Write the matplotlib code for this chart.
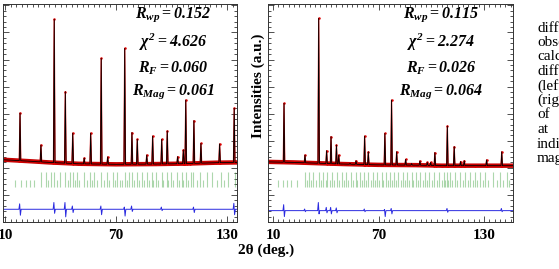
import numpy as np
import matplotlib
matplotlib.use('Agg')
import matplotlib.pyplot as plt
from matplotlib.ticker import FixedLocator, MultipleLocator

# ---- data (2theta in deg., intensity in arbitrary units) ----
# left pattern
left_bg_pos = [8.9, 22, 34, 50, 70, 92, 110, 124, 135.4]
left_bg_int = [2.30, 2.25, 2.20, 2.15, 2.13, 2.14, 2.16, 2.19, 2.20]
left_peak_pos = [18.1, 29.4, 36.6, 42.6, 46.6, 52.8, 56.3, 62.0, 65.5, 74.7, 78.6, 81.5,
                 86.6, 89.8, 94.7, 97.7, 103.3, 106.4, 107.7, 112.1, 115.9, 126.0, 133.9]
left_peak_int = [4.02, 2.84, 7.48, 4.81, 3.28, 2.36, 3.28, 6.04, 2.40, 6.41, 3.30, 3.05,
                 2.47, 3.17, 3.05, 3.36, 2.41, 2.66, 4.50, 3.74, 2.90, 2.88, 4.20]
left_nuc_ticks = [29.4, 32.0, 34.7, 36.6, 39.7, 42.6, 45.1, 46.6, 49.1, 52.9, 56.0, 58.3,
                  61.9, 64.9, 68.2, 70.7, 74.7, 77.2, 78.6, 81.5, 83.9, 86.6, 89.3, 91.6,
                  94.7, 97.4, 99.5, 102.8, 105.5, 107.8, 110.3, 111.8, 115.4, 119.0, 122.0,
                  126.6, 130.7, 134.5]
left_mag_ticks = [15.4, 18.5, 21.3, 23.5, 25.7, 33.4, 37.9, 43.9, 47.8, 50.2, 54.5, 56.8,
                  59.5, 63.5, 66.4, 69.4, 72.1, 73.0, 76.1, 79.7, 82.6, 85.3, 87.8, 90.2,
                  92.9, 95.6, 98.3, 101.0, 104.2, 106.4, 109.1, 113.6, 117.2, 124.4, 128.4]
left_diff_pos = [18.1, 36.6, 42.6, 46.6, 62.0, 74.7, 78.6, 94.7, 112.1, 133.9]
left_diff_up = [0.20, 0.25, 0.25, 0.12, 0.12, 0.08, 0.12, 0.08, 0.08, 0.22]
left_diff_down = [0.22, 0.15, 0.28, 0.12, 0.20, 0.25, 0.08, 0.05, 0.12, 0.20]
left_stats = [r'$R_{wp} = \mathbfit{0.152}$', r'$\chi^{\mathbfit{2}} = \mathbfit{4.626}$',
              r'$R_{F} = \mathbfit{0.060}$', r'$R_{Mag} = \mathbfit{0.061}$']

# right pattern
right_bg_pos = [7.2, 22, 50, 70, 91, 106, 125, 146.4]
right_bg_int = [2.22, 2.20, 2.14, 2.11, 2.10, 2.08, 2.08, 2.08]
right_peak_pos = [16.3, 28.2, 36.0, 40.5, 43.0, 46.1, 47.4, 53.8, 57.2, 62.1, 64.2, 73.6,
                  77.4, 80.3, 85.4, 88.8, 93.5, 97.7, 99.6, 102.0, 109.1, 113.0, 116.6,
                  118.7, 131.4, 140.0]
right_peak_int = [4.38, 2.47, 7.52, 2.63, 3.15, 2.84, 2.47, 2.17, 2.26, 3.17, 2.59, 3.27,
                  4.50, 2.59, 2.31, 2.16, 2.25, 2.20, 2.20, 2.56, 3.54, 2.78, 2.23,
                  2.26, 2.29, 2.59]
right_nuc_ticks = [28.2, 30.5, 32.9, 36.0, 38.6, 40.9, 43.3, 46.2, 49.0, 51.5, 54.3, 57.0,
                   59.4, 61.7, 64.2, 66.6, 68.9, 71.7, 74.0, 76.5, 78.8, 81.2, 83.7, 86.3,
                   88.8, 91.1, 93.5, 96.4, 98.8, 101.5, 104.5, 107.2, 108.7, 110.6, 113.4,
                   116.3, 119.1, 121.9, 124.8, 127.6, 130.5, 135.2, 139.0, 142.8]
right_mag_ticks = [12.7, 15.5, 17.8, 20.0, 23.5, 29.1, 31.6, 34.4, 37.3, 40.1, 42.4, 44.9,
                   47.3, 50.3, 52.8, 55.6, 57.9, 60.6, 62.8, 65.5, 68.0, 70.4, 72.7, 75.2,
                   77.4, 79.9, 82.5, 85.0, 87.5, 89.7, 92.2, 95.0, 97.7, 100.2, 103.0, 105.8,
                   107.9, 109.6, 111.9, 114.7, 117.8, 120.6, 123.5, 126.1, 129.1, 132.4,
                   137.1, 140.9, 144.3]
right_diff_pos = [16.3, 28.2, 36.0, 40.5, 43.0, 46.2, 62.1, 73.6, 77.4, 109.1, 140.0]
right_diff_up = [0.22, 0.06, 0.30, 0.12, 0.12, 0.10, 0.06, 0.04, 0.08, 0.08, 0.08]
right_diff_down = [0.22, 0.04, 0.12, 0.08, 0.12, 0.08, 0.04, 0.22, 0.12, 0.06, 0.04]
right_stats = [r'$R_{wp} = \mathbfit{0.115}$', r'$\chi^{\mathbfit{2}} = \mathbfit{2.274}$',
               r'$R_{F} = \mathbfit{0.026}$', r'$R_{Mag} = \mathbfit{0.064}$']

caption_lines = ['diffraction', 'observed', 'calculated', 'difference', '(left)',
                 '(right)', 'of', 'at', 'indices', 'magnetic']

plt.rcParams['font.family'] = 'Liberation Serif'
plt.rcParams['mathtext.fontset'] = 'custom'
plt.rcParams['mathtext.rm'] = 'Liberation Serif:bold'
plt.rcParams['mathtext.it'] = 'Liberation Serif:bold:italic'
plt.rcParams['mathtext.bf'] = 'Liberation Serif:bold'
plt.rcParams['mathtext.bfit'] = 'Liberation Serif:bold:italic'

W, H = 559, 269


def profile(bg_pos, bg_int, pk_pos, pk_int, hw):
    pk_pos = np.array(pk_pos)
    fl = pk_pos - hw
    fr = pk_pos + hw
    xs = np.concatenate([bg_pos, fl, pk_pos, fr])
    ys = np.concatenate([bg_int, np.interp(fl, bg_pos, bg_int), pk_int,
                         np.interp(fr, bg_pos, bg_int)])
    order = np.argsort(xs)
    return xs[order], ys[order]


def diff_curve(xlim, level, pos, up, down):
    xs = [xlim[0]]
    ys = [level]
    for p, u, d in zip(pos, up, down):
        xs += [p - 0.6, p - 0.2, p + 0.2, p + 0.6]
        ys += [level, level + u, level - d, level]
    xs.append(xlim[1])
    ys.append(level)
    return xs, ys


def draw_panel(ax, xlim, bg_pos, bg_int, pk_pos, pk_int, nuc, mag,
               dpos, dup, ddown, dlevel):
    x, y = profile(bg_pos, bg_int, pk_pos, pk_int, 0.4)
    # observed: thick red band along the background, red dots on the peaks
    ax.plot(bg_pos, bg_int, color='#c80000', lw=3.2, solid_capstyle='butt')
    ax.plot(x, y, color='#e00000', lw=0.9)
    ax.plot(x, y, 'o', color='#e00000', ms=1.8, mew=0)
    # calculated
    ax.plot(x, y, color='black', lw=0.6)
    # Bragg positions
    ax.vlines(nuc, 1.29, 1.85, color='#4aa84a', alpha=0.45, lw=0.8)
    ax.vlines(mag, 1.29, 1.55, color='#4aa84a', alpha=0.45, lw=0.8)
    # difference
    dx, dy = diff_curve(xlim, dlevel, dpos, dup, ddown)
    ax.plot(dx, dy, color='#2a2ae0', lw=0.7)

    ax.set_xlim(*xlim)
    ax.set_ylim(0, 8.05)
    ax.xaxis.set_major_locator(FixedLocator([10, 70, 130]))
    ax.xaxis.set_minor_locator(FixedLocator(np.arange(-2, 150, 3)))
    ax.yaxis.set_major_locator(MultipleLocator(1))
    ax.yaxis.set_minor_locator(MultipleLocator(0.2))
    ax.tick_params(which='both', direction='in', top=True, right=True,
                   labelleft=False, width=0.6, colors='#333333')
    ax.tick_params(which='major', length=4, labelsize=11, pad=5, labelcolor='black')
    ax.tick_params(which='minor', length=2)
    for lab in ax.get_xticklabels():
        lab.set_fontweight('bold')
    for s in ax.spines.values():
        s.set_linewidth(0.7)
        s.set_color('#333333')


fig = plt.figure(figsize=(W / 100, H / 100), dpi=100)
axL = fig.add_axes([3 / W, 47 / H, 234 / W, 218 / H])
axR = fig.add_axes([268 / W, 47 / H, 245 / W, 218 / H])

draw_panel(axL, (8.9, 135.4), left_bg_pos, left_bg_int, left_peak_pos, left_peak_int,
           left_nuc_ticks, left_mag_ticks, left_diff_pos, left_diff_up, left_diff_down, 0.47)
draw_panel(axR, (7.2, 146.4), right_bg_pos, right_bg_int, right_peak_pos, right_peak_int,
           right_nuc_ticks, right_mag_ticks, right_diff_pos, right_diff_up, right_diff_down, 0.42)

stat_rows = [15, 42, 68, 92]
for txt, yy in zip(left_stats, stat_rows):
    fig.text(173 / W, 1 - yy / H, txt, ha='center', va='center', fontsize=11.5)
for txt, yy in zip(right_stats, stat_rows):
    fig.text(441 / W, 1 - yy / H, txt, ha='center', va='center', fontsize=11.5)

fig.text(266 / W, 1 - 250 / H, '2\u03b8 (deg.)', ha='center', va='center',
         fontsize=11, fontweight='bold')
fig.text(258 / W, 1 - 86 / H, 'Intensities (a.u.)', ha='center', va='center',
         rotation=90, fontsize=11, fontweight='bold')

for i, line in enumerate(caption_lines):
    fig.text(537 / W, 1 - (28 + 14.5 * i) / H, line, ha='left', va='center', fontsize=11)

fig.savefig('out.png', dpi=100)
